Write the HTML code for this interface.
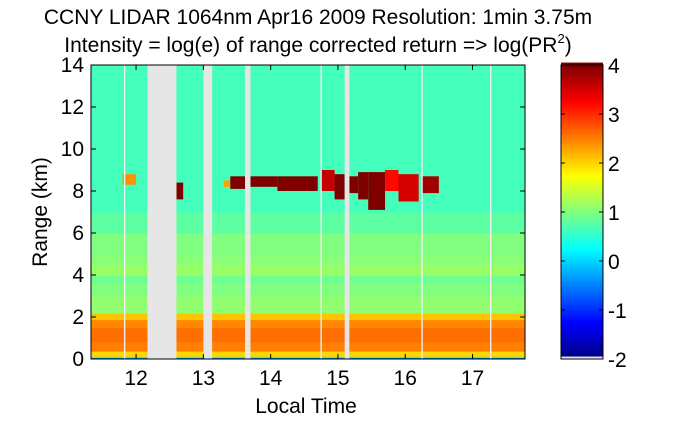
<!DOCTYPE html>
<html><head><meta charset="utf-8"><style>
body{margin:0;background:#fff;width:700px;height:420px;overflow:hidden;font-family:"Liberation Sans",sans-serif}
svg text{font-family:"Liberation Sans",sans-serif;fill:#000}
</style></head><body>
<svg id="c" width="700" height="420">
<text x="318" y="24" font-size="21" text-anchor="middle">CCNY LIDAR 1064nm Apr16 2009 Resolution: 1min 3.75m</text>
<text x="318" y="52" font-size="21" text-anchor="middle">Intensity = log(e) of range corrected return =&gt; log(PR<tspan font-size="13" dy="-9">2</tspan><tspan dy="9">)</tspan></text>
<g id="heat"></g>
<g id="cbar"></g>
<g id="axes"></g>
<text x="47" y="212" font-size="21" text-anchor="middle" transform="rotate(-90 47 212)">Range (km)</text>
<text x="306" y="413" font-size="21" text-anchor="middle">Local Time</text>
</svg>
<script>
const xTicks=[12,13,14,15,16,17];
const yTicks=[0,2,4,6,8,10,12,14];
const cTicks=[-2,-1,0,1,2,3,4];
const profileRanges=[0,0.08,0.15,0.4,0.8,1.5,1.9,2.2,3,3.6,4,4.5,5,6,7,14];
const profileValues=[-0.8,0.3,2.0,2.5,2.6,2.45,2.1,1.1,1.0,0.9,1.15,1.05,1.0,0.8,0.65,0.65];
const cloudStart=[11.8,12.6,13.3,13.4,13.7,14.1,14.75,14.95,15.17,15.3,15.45,15.7,15.9,16.25];
const cloudEnd=[12.0,12.7,13.4,13.62,14.1,14.7,14.95,15.1,15.3,15.45,15.7,15.9,16.2,16.5];
const cloudBottom=[8.3,7.6,8.2,8.1,8.2,8.0,8.0,7.6,7.9,7.6,7.1,8.0,7.5,7.9];
const cloudTop=[8.8,8.4,8.5,8.7,8.7,8.7,9.0,8.8,8.7,8.9,8.9,9.0,8.8,8.7];
const cloudValue=[2.4,4,2.3,4,4,4,3.6,4,4,4,4,3.2,3.5,3.8];
const gapStart=[12.17,13.0,13.62,15.1];
const gapEnd=[12.6,13.13,13.7,15.17];
const lineTimes=[11.83,14.75,16.25,17.27];

const X0=91,X1=525,Y0=65,Y1=359,T0=11.33,T1=17.78;
const xs=t=>X0+(t-T0)/(T1-T0)*(X1-X0);
const ys=r=>Y1-r/14*(Y1-Y0);
const cl=v=>Math.max(0,Math.min(1,v));
function jet(v){const t=cl((v+2)/6);const r=cl(1.5-Math.abs(4*t-3)),g=cl(1.5-Math.abs(4*t-2)),b=cl(1.5-Math.abs(4*t-1));return `rgb(${Math.round(r*255)},${Math.round(g*255)},${Math.round(b*255)})`;}
function prof(r){for(let i=0;i<profileRanges.length-1;i++){if(r<=profileRanges[i+1])return profileValues[i];}return profileValues[profileValues.length-1];}
const NS='http://www.w3.org/2000/svg';
function mk(tag,at,parent){const e=document.createElementNS(NS,tag);for(const k in at)e.setAttribute(k,at[k]);parent.appendChild(e);return e;}
const heat=document.getElementById('heat');
const dr=0.0625;
for(let r=0;r<14;r+=dr){
  const e=mk('rect',{x:X0,y:ys(r+dr),width:X1-X0,height:ys(r)-ys(r+dr)+0.5,fill:jet(prof(r+dr/2))},heat);
  
  
}
for(let i=0;i<cloudStart.length;i++){
  const e=mk('rect',{x:xs(cloudStart[i]),y:ys(cloudTop[i]),width:xs(cloudEnd[i])-xs(cloudStart[i]),height:ys(cloudBottom[i])-ys(cloudTop[i]),fill:jet(cloudValue[i])},heat);
  
  
}
for(let i=0;i<gapStart.length;i++){
  const e=mk('rect',{x:xs(gapStart[i]),y:Y0,width:xs(gapEnd[i])-xs(gapStart[i]),height:Y1-Y0,fill:'#e6e6e6'},heat);
  
  
}
for(const t of lineTimes){
  const e=mk('rect',{x:xs(t)-0.7,y:Y0,width:1.4,height:Y1-Y0,fill:'#f0f0f0'},heat);
  
  
}
const axes=document.getElementById('axes');
mk('rect',{x:X0,y:Y0,width:X1-X0,height:Y1-Y0,fill:'none',stroke:'#000','stroke-width':1},axes);
for(const t of xTicks){const x=xs(t);
  mk('line',{x1:x,x2:x,y1:Y1,y2:Y1-5,stroke:'#000'},axes);mk('line',{x1:x,x2:x,y1:Y0,y2:Y0+5,stroke:'#000'},axes);
  const e=mk('text',{x:x,y:Y1+26,'font-size':21,'text-anchor':'middle'},axes);e.textContent=t;
  
  
}
for(const r of yTicks){const y=ys(r);
  mk('line',{x1:X0,x2:X0+5,y1:y,y2:y,stroke:'#000'},axes);mk('line',{x1:X1,x2:X1-5,y1:y,y2:y,stroke:'#000'},axes);
  const e=mk('text',{x:X0-7,y:y+7,'font-size':21,'text-anchor':'end'},axes);e.textContent=r;
  
  
}
const cb=document.getElementById('cbar');
const CX0=561,CX1=603,cys=v=>Y1-(v+2)/6*(Y1-Y0);
for(let v=-2;v<4;v+=0.05){mk('rect',{x:CX0,y:cys(v+0.05),width:CX1-CX0,height:cys(v)-cys(v+0.05)+0.5,fill:jet(v+0.025)},cb);}
mk('rect',{x:CX0,y:cys(-1.95),width:CX1-CX0,height:cys(-2)-cys(-1.95),fill:'#e6e6e6'},cb);
mk('rect',{x:CX0,y:Y0,width:CX1-CX0,height:Y1-Y0,fill:'none',stroke:'#000'},cb);
for(const v of cTicks){const y=cys(v);
  mk('line',{x1:CX0,x2:CX0+4,y1:y,y2:y,stroke:'#000'},cb);mk('line',{x1:CX1,x2:CX1-4,y1:y,y2:y,stroke:'#000'},cb);
  const e=mk('text',{x:608,y:y+8,'font-size':21},cb);e.textContent=v;
  
  
}
</script>
</body></html>
